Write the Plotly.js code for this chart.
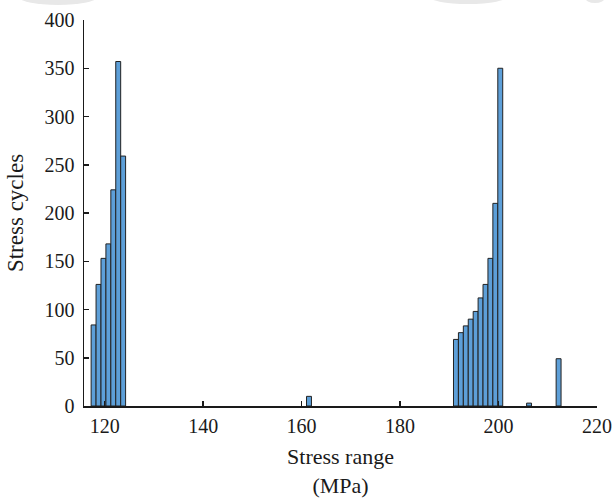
<!DOCTYPE html>
<html>
<head>
<meta charset="utf-8">
<script src="https://cdn.plot.ly/plotly-3.0.1.min.js"></script>
<style>
  html, body { margin: 0; padding: 0; background: #ffffff; }
  #chart { width: 612px; height: 498px; }
</style>
</head>
<body>
<div id="chart"></div>
<script>
// Histogram bins of stress range (MPa): bin centres and counted cycles
const binCenters = [117.75, 118.75, 119.75, 120.75, 121.75, 122.75, 123.75,
                    161.5,
                    191.35, 192.35, 193.35, 194.35, 195.35, 196.35, 197.35, 198.35, 199.35, 200.35,
                    206.2, 212.2];
const cycleCounts = [84, 126, 153, 168, 224, 357, 259,
                     10,
                     69, 76, 83, 90, 98, 112, 126, 153, 210, 350,
                     3, 49];
const binWidth = 1.0;

const xTicks = [120, 140, 160, 180, 200, 220];
const yTicks = [0, 50, 100, 150, 200, 250, 300, 350, 400];

const W = 612, H = 498;
const margin = {l: 84, r: 15, t: 20, b: 92};
const plotW = W - margin.l - margin.r;
const plotH = H - margin.t - margin.b;
// pixel -> paper coordinate helpers for decorative shapes
const px = v => (v - margin.l) / plotW;
const py = v => (H - margin.b - v) / plotH;

const serif = 'Liberation Serif';

const trace = {
  type: 'bar',
  x: binCenters,
  y: cycleCounts,
  width: binWidth,
  marker: {
    color: '#5d9fd8',
    line: {color: '#222222', width: 1}
  },
  hoverinfo: 'x+y'
};

// faint grey smudges along the top edge
const smudges = [
  [18, 98, -12, 5],
  [428, 508, -12, 4],
  [585, 605, -8, 3]
].map(([x0, x1, y0, y1]) => ({
  type: 'circle', xref: 'paper', yref: 'paper',
  x0: px(x0), x1: px(x1), y0: py(y1), y1: py(y0),
  fillcolor: '#e8e8e8', line: {width: 0}, layer: 'below'
}));

const layout = {
  width: W, height: H,
  margin: margin,
  paper_bgcolor: '#ffffff',
  plot_bgcolor: '#ffffff',
  showlegend: false,
  bargap: 0,
  font: {family: serif, color: '#1a1a1a', size: 20},
  xaxis: {
    range: [115.8, 220],
    tickvals: xTicks,
    ticktext: xTicks.map(String),
    ticks: 'inside', ticklen: 5, tickwidth: 1.5, tickcolor: '#1a1a1a',
    showline: true, linecolor: '#1a1a1a', linewidth: 1.5,
    showgrid: false, zeroline: false,
    ticklabelstandoff: 1,
    tickfont: {family: serif, size: 20, color: '#1a1a1a'},
    title: {text: 'Stress range<br>(MPa)', font: {family: serif, size: 22, color: '#1a1a1a'}, standoff: 21}
  },
  yaxis: {
    range: [0, 400],
    tickvals: yTicks,
    ticktext: yTicks.map(String),
    ticks: 'inside', ticklen: 5, tickwidth: 1.5, tickcolor: '#1a1a1a',
    showline: true, linecolor: '#1a1a1a', linewidth: 1.5,
    showgrid: false, zeroline: false,
    ticklabelstandoff: 4,
    tickfont: {family: serif, size: 20, color: '#1a1a1a'},
    title: {text: 'Stress cycles', font: {family: serif, size: 23, color: '#1a1a1a'}, standoff: 14}
  },
  shapes: smudges
};

Plotly.newPlot('chart', [trace], layout, {displayModeBar: false, staticPlot: true});
</script>
</body>
</html>
